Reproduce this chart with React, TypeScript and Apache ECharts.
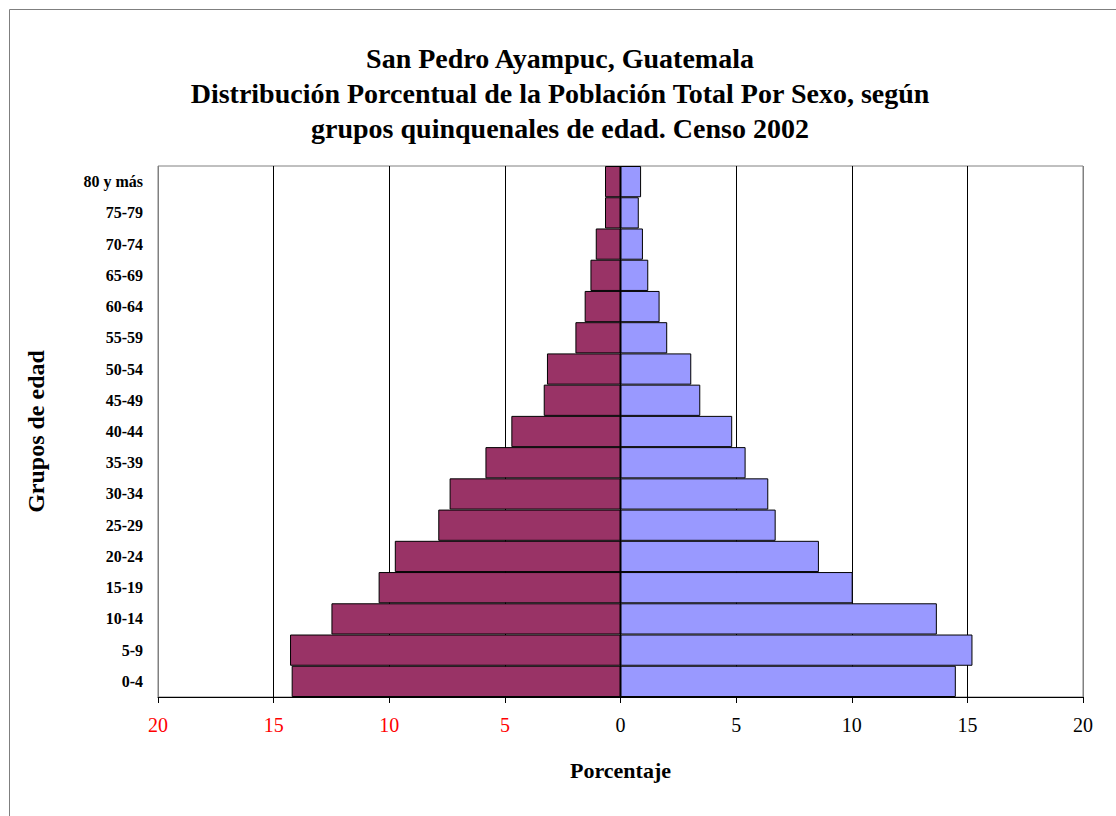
import React, { useEffect, useRef } from "react";
import * as echarts from "echarts";

const categories = ["0-4", "5-9", "10-14", "15-19", "20-24", "25-29", "30-34", "35-39", "40-44", "45-49", "50-54", "55-59", "60-64", "65-69", "70-74", "75-79", "80 y más"];
const hombres = [14.22, 14.29, 12.5, 10.46, 9.76, 7.88, 7.39, 5.84, 4.72, 3.32, 3.18, 1.95, 1.55, 1.3, 1.07, 0.67, 0.67];
const mujeres = [14.5, 15.22, 13.68, 10.04, 8.58, 6.71, 6.39, 5.41, 4.83, 3.45, 3.06, 2.02, 1.69, 1.2, 0.97, 0.79, 0.89];
const titleLines = [
  "San Pedro Ayampuc, Guatemala",
  "Distribución Porcentual de la Población Total Por Sexo, según",
  "grupos quinquenales de edad. Censo 2002",
];

const SERIF = "'Liberation Serif', 'DejaVu Serif', serif";

export default function App() {
  const ref = useRef<HTMLDivElement>(null);
  useEffect(() => {
    if (!ref.current) return;
    const chart = echarts.init(ref.current, null, { renderer: "svg" });
    chart.setOption({
      animation: false,
      backgroundColor: "#ffffff",
      title: {
        text: titleLines.join("\n"),
        left: 555,
        textAlign: "center",
        top: 36,
        textStyle: {
          fontFamily: SERIF,
          fontWeight: "bold",
          fontSize: 28,
          lineHeight: 35,
          color: "#000",
        },
      },
      graphic: [
        {
          type: "rect",
          shape: { x: 9.5, y: 9.5, width: 1200, height: 900 },
          style: { fill: "none", stroke: "#7f7f7f", lineWidth: 1 },
          silent: true,
        },
      ],
      grid: {
        left: 158,
        right: 33,
        top: 166,
        bottom: 119,
        show: true,
        borderColor: "#808080",
        borderWidth: 1,
        backgroundColor: "transparent",
      },
      xAxis: {
        type: "value",
        min: -20,
        max: 20,
        interval: 5,
        name: "Porcentaje",
        nameLocation: "middle",
        nameGap: 62,
        nameTextStyle: { fontFamily: SERIF, fontWeight: "bold", fontSize: 22, color: "#000" },
        axisLine: { show: true, lineStyle: { color: "#000", width: 1 } },
        axisTick: { show: true, length: 6, lineStyle: { color: "#000" } },
        axisLabel: {
          margin: 18,
          fontFamily: SERIF,
          fontSize: 20,
          formatter: (v: number) => (v < 0 ? "{r|" + Math.abs(v) + "}" : "{b|" + v + "}"),
          rich: {
            r: { color: "#ff0000", fontFamily: SERIF, fontSize: 20 },
            b: { color: "#000000", fontFamily: SERIF, fontSize: 20 },
          },
        },
        splitLine: {
          show: true,
          lineStyle: {
            color: ["#808080", "#000", "#000", "#000", "#000", "#000", "#000", "#000", "#808080"],
            width: 1,
          },
        },
      },
      yAxis: {
        type: "category",
        data: categories,
        name: "Grupos de edad",
        nameLocation: "middle",
        nameRotate: 90,
        nameGap: 110,
        nameTextStyle: { fontFamily: SERIF, fontWeight: "bold", fontSize: 24, color: "#000" },
        axisLine: { show: false },
        axisTick: { show: false },
        axisLabel: {
          margin: 15,
          fontFamily: SERIF,
          fontWeight: "bold",
          fontSize: 16,
          color: "#000",
        },
        splitLine: { show: false },
      },
      series: [
        {
          name: "Hombres",
          type: "bar",
          data: hombres.map((v) => -v),
          barGap: "-100%",
          barCategoryGap: 0,
          itemStyle: { color: "#993366", borderColor: "#000", borderWidth: 1 },
        },
        {
          name: "Mujeres",
          type: "bar",
          data: mujeres,
          barGap: "-100%",
          barCategoryGap: 0,
          itemStyle: { color: "#9999ff", borderColor: "#000", borderWidth: 1 },
        },
      ],
    });
    return () => chart.dispose();
  }, []);
  return (
    <div
      ref={ref}
      style={{ position: "absolute", left: 0, top: 0, width: 1116, height: 816 }}
    />
  );
}
